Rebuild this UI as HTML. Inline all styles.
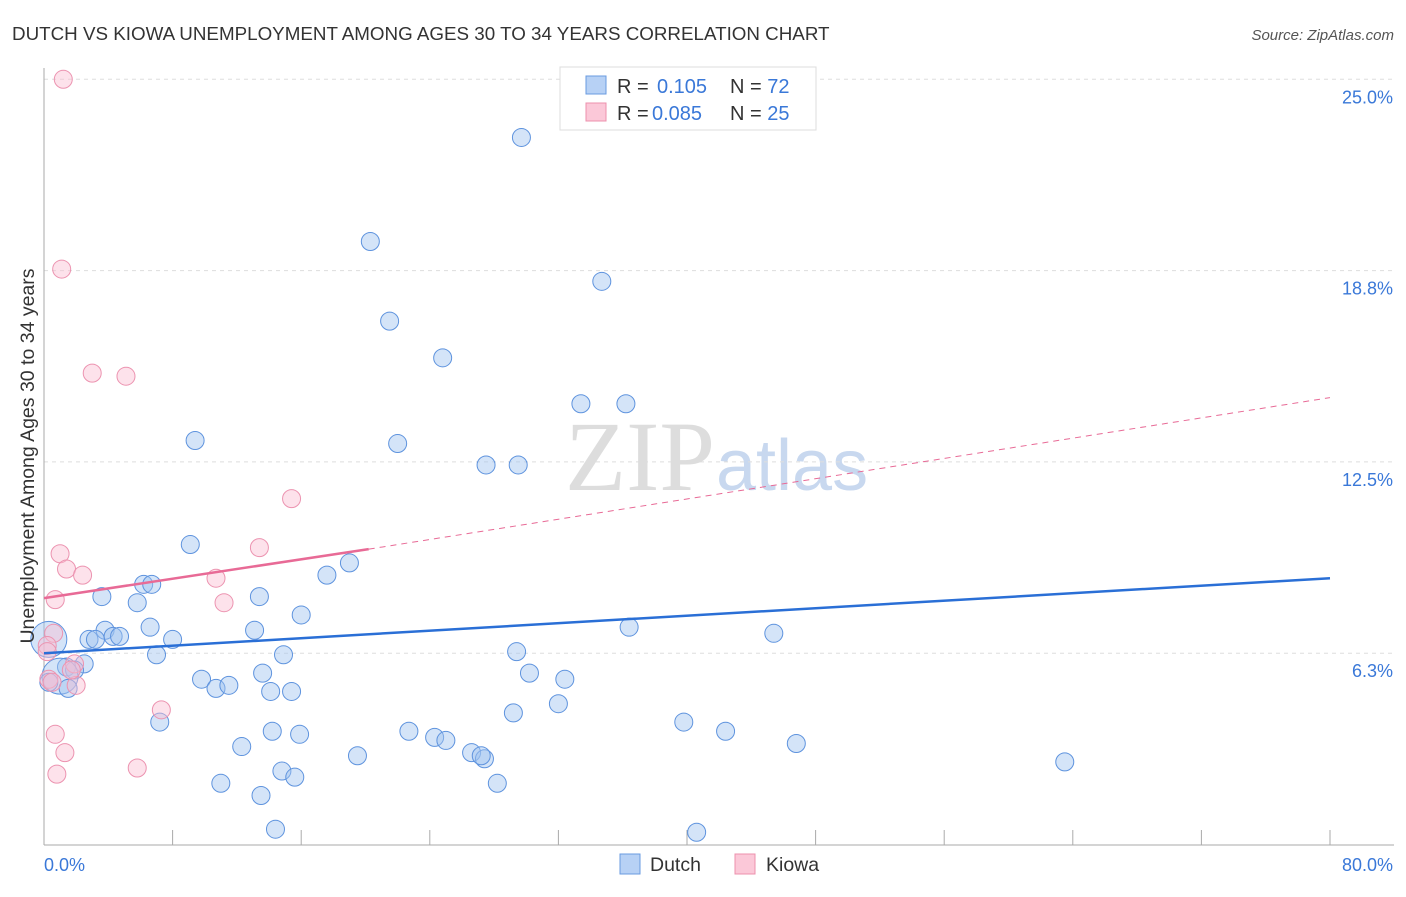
<!DOCTYPE html>
<html><head><meta charset="utf-8"><style>
body{margin:0;background:#fff;font-family:"Liberation Sans",sans-serif}
</style></head><body>
<svg id="c" width="1406" height="892" xmlns="http://www.w3.org/2000/svg" style="font-family:'Liberation Sans',sans-serif">
<text x="12" y="40" font-size="18.8" fill="#333">DUTCH VS KIOWA UNEMPLOYMENT AMONG AGES 30 TO 34 YEARS CORRELATION CHART</text>
<text x="1394" y="40" font-size="15" fill="#555" text-anchor="end" font-style="italic">Source: ZipAtlas.com</text>
<text x="715" y="490" font-size="100" fill="#ddd" text-anchor="end" font-family="Liberation Serif">ZIP</text>
<text x="716" y="490" font-size="72" fill="#c8d8ef">atlas</text>
<g id="grid"></g><g id="axes"></g><g id="pts"></g><g id="lines"></g>
<text transform="translate(34,456) rotate(-90)" font-size="19.5" fill="#333" text-anchor="middle">Unemployment Among Ages 30 to 34 years</text>
<g>
<rect x="560" y="67" width="256" height="63" fill="#fff" stroke="#ddd"/>
<rect x="586" y="76" width="20" height="18" fill="#b7d1f5" stroke="#6a9be0"/>
<rect x="586" y="103" width="20" height="18" fill="#fbc8d8" stroke="#ec90ad"/>
<text x="617" y="93" font-size="20" fill="#333">R = <tspan x="657" fill="#3a78d8">0.105</tspan><tspan x="730">N = </tspan><tspan fill="#3a78d8">72</tspan></text>
<text x="617" y="120" font-size="20" fill="#333">R = <tspan x="652" fill="#3a78d8">0.085</tspan><tspan x="730">N = </tspan><tspan fill="#3a78d8">25</tspan></text>
</g>
<g>
<rect x="620" y="854" width="20" height="20" fill="#b7d1f5" stroke="#6a9be0"/>
<text x="650" y="871" font-size="19.5" fill="#333">Dutch</text>
<rect x="735" y="854" width="20" height="20" fill="#fbc8d8" stroke="#ec90ad"/>
<text x="766" y="871" font-size="19.5" fill="#333">Kiowa</text>
</g>
</svg>
<script>
const yTicks=[6.25,12.5,18.75,25];
const yTickLabels=["6.3%","12.5%","18.8%","25.0%"];
const xTickLabels=["0.0%","80.0%"];
const dutchX=[29.7,20.3,34.7,21.5,24.8,33.4,36.2,9.4,22.0,27.5,29.5,9.1,17.6,19.0,6.2,6.7,3.6,5.8,13.4,16.0,6.6,3.8,36.4,45.4,2.8,3.2,4.3,4.7,8.0,13.1,0.3,29.4,14.9,7.0,2.5,1.4,1.9,13.6,30.2,32.4,9.8,10.7,11.5,14.1,15.4,1.0,0.3,1.5,29.2,32.0,7.2,39.8,42.4,22.7,14.2,15.9,24.3,25.0,46.8,12.3,26.6,27.4,27.2,19.5,63.5,14.8,15.6,11.0,28.2,13.5,14.4,40.6];
const dutchY=[23.1,19.7,18.4,17.1,15.9,14.4,14.4,13.2,13.1,12.4,12.4,9.8,8.8,9.2,8.5,8.5,8.1,7.9,8.1,7.5,7.1,7.0,7.1,6.9,6.7,6.7,6.8,6.8,6.7,7.0,6.7,6.3,6.2,6.2,5.9,5.8,5.7,5.6,5.6,5.4,5.4,5.1,5.2,5.0,5.0,5.5,5.3,5.1,4.3,4.6,4.0,4.0,3.7,3.7,3.7,3.6,3.5,3.4,3.3,3.2,3.0,2.8,2.9,2.9,2.7,2.4,2.2,2.0,2.0,1.6,0.5,0.4];
const dutchR=[9,9,9,9,9,9,9,9,9,9,9,9,9,9,9,9,9,9,9,9,9,9,9,9,9,9,9,9,9,9,18,9,9,9,9,9,9,9,9,9,9,9,9,9,9,18,9,9,9,9,9,9,9,9,9,9,9,9,9,9,9,9,9,9,9,9,9,9,9,9,9,9];
const kiowaX=[1.2,1.1,3.0,5.1,15.4,13.4,1.0,1.4,2.4,10.7,0.7,11.2,0.6,0.2,1.9,0.3,2.0,7.3,0.7,1.3,5.8,0.8,0.2,0.5,1.7];
const kiowaY=[25.0,18.8,15.4,15.3,11.3,9.7,9.5,9.0,8.8,8.7,8.0,7.9,6.9,6.5,5.9,5.4,5.2,4.4,3.6,3.0,2.5,2.3,6.3,5.3,5.7];
const dutchTrend=[6.25,8.7];
const kiowaTrend=[8.05,9.65,14.6];
const NS="http://www.w3.org/2000/svg";
const X=v=>44+v/80*1286, Y=v=>844.5-v/6.25*191.3;
function mk(t,a,p){const e=document.createElementNS(NS,t);for(const k in a)e.setAttribute(k,a[k]);document.getElementById(p).appendChild(e);return e;}
yTicks.forEach((t,i)=>{
 const g=mk('line',{x1:44,x2:1394,y1:Y(t),y2:Y(t),stroke:'#ddd','stroke-dasharray':'4,4'},'grid');
 
 
 const l=mk('text',{x:1393,y:Y(t)+24,'font-size':18,fill:'#3a78d8','text-anchor':'end'},'grid');
 
 
 l.textContent=yTickLabels[i];
});
const ax=mk('line',{x1:44,x2:44,y1:68,y2:845,stroke:'#aaa'},'axes');


const bx=mk('line',{x1:44,x2:1394,y1:845,y2:845,stroke:'#aaa'},'axes');


for(let i=0;i<=10;i++){const t=mk('line',{x1:X(i*8),x2:X(i*8),y1:830,y2:845,stroke:'#aaa'},'axes');
 
 }
[[0,'start',xTickLabels[0]],[80,'end',xTickLabels[1]]].forEach(d=>{
 const t=mk('text',{x:d[0]?1393:44,y:871,'font-size':18,fill:'#3a78d8','text-anchor':d[1]},'axes');
 
 
 t.textContent=d[2];});
dutchX.forEach((x,i)=>{const c=mk('circle',{cx:X(x),cy:Y(dutchY[i]),r:dutchR[i],fill:'rgba(160,195,240,0.45)',stroke:'#5e93de','stroke-width':1},'pts');
 
 });
kiowaX.forEach((x,i)=>{const c=mk('circle',{cx:X(x),cy:Y(kiowaY[i]),r:9,fill:'rgba(250,190,210,0.45)',stroke:'#ec93b0','stroke-width':1},'pts');
 
 });
const dl=mk('line',{x1:X(0),y1:Y(dutchTrend[0]),x2:X(80),y2:Y(dutchTrend[1]),stroke:'#2a6fd6','stroke-width':2.5},'lines');


const kl=mk('line',{x1:X(0),y1:Y(kiowaTrend[0]),x2:X(20.2),y2:Y(kiowaTrend[1]),stroke:'#e86a96','stroke-width':2.5},'lines');


const kd=mk('line',{x1:X(20.2),y1:Y(kiowaTrend[1]),x2:X(80),y2:Y(kiowaTrend[2]),stroke:'#e86a96','stroke-width':1,'stroke-dasharray':'6,5'},'lines');


</script>
</body></html>
